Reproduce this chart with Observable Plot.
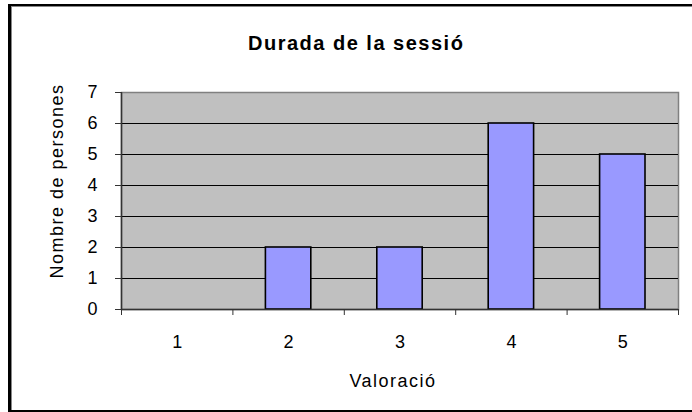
<!DOCTYPE html>
<html>
<head>
<meta charset="utf-8">
<script src="https://cdn.jsdelivr.net/npm/d3@7"></script>
<script src="https://cdn.jsdelivr.net/npm/@observablehq/plot@0.6"></script>
<style>
  html, body { margin: 0; padding: 0; background: #fff; }
  #wrap { position: relative; width: 692px; height: 412px; overflow: hidden; font-family: "Liberation Sans", Arial, sans-serif; color: #000; }
  #frame { position: absolute; left: 8px; top: 4px; width: 800px; height: 408px; box-sizing: border-box;
           border-left: 3px solid #000; border-top: 2px solid #000; border-bottom: 2px solid #000;
           box-shadow: inset 1px 1px 0 #888; pointer-events: none; }
  #chart { position: absolute; left: 0; top: 0; }
  .lbl { position: absolute; white-space: nowrap; line-height: 1; }
  #title { left: 248px; top: 33px; font-size: 20px; font-weight: bold; letter-spacing: 1.5px; }
  #ylabel { left: 57px; top: 181px; font-size: 18px; letter-spacing: 1.5px; transform: translate(-50%, -50%) rotate(-90deg); }
  #xlabel { left: 393px; top: 372px; font-size: 18px; letter-spacing: 1.5px; transform: translateX(-50%); }
</style>
</head>
<body>
<div id="wrap">
  <div id="chart"></div>
  <div id="frame"></div>
  <div id="title" class="lbl">Durada de la sessió</div>
  <div id="ylabel" class="lbl">Nombre de persones</div>
  <div id="xlabel" class="lbl">Valoració</div>
</div>
<script>
const ratings = [1, 2, 3, 4, 5];
const counts = [0, 2, 2, 6, 5];
const yTicks = [0, 1, 2, 3, 4, 5, 6, 7];
const xBounds = [0.5, 1.5, 2.5, 3.5, 4.5, 5.5];

const data = ratings.map((v, i) => ({v, n: counts[i]}));
const fmt = d3.format("d");

const chart = Plot.plot({
  width: 692,
  height: 412,
  marginLeft: 121,
  marginRight: 14,
  marginTop: 92,
  marginBottom: 103,
  style: {fontFamily: "Liberation Sans, Arial, sans-serif", fontSize: "18px", background: "transparent", color: "#000"},
  x: {type: "linear", domain: [xBounds[0], xBounds[xBounds.length - 1]]},
  y: {domain: [yTicks[0], yTicks[yTicks.length - 1]]},
  marks: [
    Plot.frame({fill: "#c0c0c0", stroke: "#808080", strokeWidth: 1.5}),
    Plot.ruleY(yTicks.filter(t => t > yTicks[0] && t < yTicks[yTicks.length - 1]), {stroke: "#000", strokeWidth: 1}),
    Plot.rectY(data, {
      filter: d => d.n > 0,
      x1: d => d.v - 0.5, x2: d => d.v + 0.5, y: "n",
      insetLeft: 33, insetRight: 33,
      fill: "#9999ff", stroke: "#000", strokeWidth: 1.6
    }),
    Plot.ruleX([xBounds[0]], {stroke: "#333", strokeWidth: 1.5}),
    Plot.ruleY([yTicks[0]], {stroke: "#333", strokeWidth: 1.5}),
    Plot.axisY({ticks: yTicks, tickFormat: fmt, tickSize: 6, tickPadding: 18, label: null, stroke: "#333", fill: "#000", fontSize: 18}),
    Plot.axisX({ticks: xBounds, tickSize: 6, tickFormat: () => "", label: null, stroke: "#333"}),
    Plot.axisX({ticks: ratings, tickFormat: fmt, tickSize: 0, tickPadding: 26, label: null, fill: "#000", fontSize: 18})
  ]
});
document.getElementById("chart").appendChild(chart);
</script>
</body>
</html>
